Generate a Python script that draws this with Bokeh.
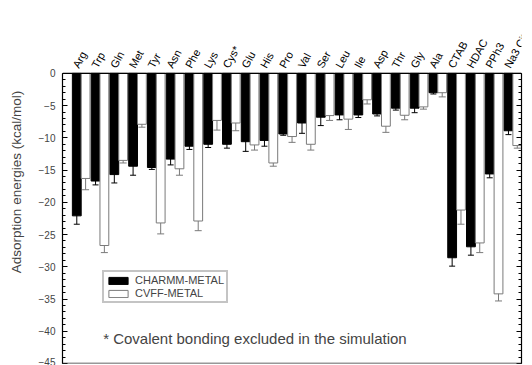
from bokeh.plotting import figure
from bokeh.models import (ColumnDataSource, LinearAxis, Range1d, Whisker, LabelSet, Span,
                          Legend, LegendItem, Label, TeeHead, SingleIntervalTicker,
                          CustomJSTickFormatter)
from bokeh.core.properties import value
from bokeh.embed import file_html
from bokeh.resources import INLINE

categories = ["Arg", "Trp", "Gln", "Met", "Tyr", "Asn", "Phe", "Lys", "Cys*", "Glu", "His", "Pro",
              "Val", "Ser", "Leu", "Ile", "Asp", "Thr", "Gly", "Ala", "CTAB", "HDAC", "PPh3", "Na3 Citrate"]
charmm = [-22.1, -16.7, -15.7, -14.4, -14.6, -13.3, -11.3, -11.0, -11.0, -10.6, -10.4, -9.4,
          -7.7, -6.8, -6.45, -6.45, -6.3, -5.4, -5.4, -3.0, -28.6, -26.9, -15.6, -8.9]
charmm_err = [1.3, 0.6, 1.3, 1.4, 0.3, 0.9, 0.5, 0.5, 0.6, 1.5, 0.9, 0.2,
              1.6, 1.3, 0.75, 0.4, 0.3, 0.3, 0.7, 0.2, 1.3, 1.3, 0.6, 0.6]
cvff = [-16.3, -26.7, -13.5, -7.9, -23.2, -14.8, -22.9, -7.3, -7.7, -11.1, -13.9, -9.8,
        -11.0, -6.55, -7.1, -4.1, -8.2, -6.5, -5.2, -3.0, -21.2, -26.3, -34.2, -11.2]
cvff_err = [1.75, 1.1, 0.4, 0.45, 1.7, 1.0, 1.5, 1.5, 1.2, 0.8, 0.5, 0.9,
            0.9, 0.75, 1.6, 0.65, 0.95, 0.7, 0.35, 0.65, 2.2, 1.5, 1.1, 0.4]
y_min, y_max = -45, 0

OFF = 0.235
W = 0.47
idx = list(range(len(categories)))
src = ColumnDataSource(dict(
    xb=[i - OFF for i in idx], xw=[i + OFF for i in idx],
    cb=charmm, cw=cvff,
    cb_lo=[v - e for v, e in zip(charmm, charmm_err)], cb_hi=[v + e for v, e in zip(charmm, charmm_err)],
    cw_lo=[v - e for v, e in zip(cvff, cvff_err)], cw_hi=[v + e for v, e in zip(cvff, cvff_err)],
))
lab_src = ColumnDataSource(dict(x=[i - 0.12 for i in idx], y=[0.66] * len(idx), text=categories))

FONT = "Liberation Sans"
p = figure(width=532, height=365, x_range=Range1d(-0.996, 23.46), y_range=Range1d(y_min, 11.3),
           x_axis_location=None, output_backend="svg", toolbar_location=None,
           min_border_left=62, min_border_right=11, min_border_top=0, min_border_bottom=2)
p.grid.visible = False
p.outline_line_color = None

rb = p.vbar(x="xb", top=0, bottom="cb", width=W, source=src, fill_color="black", line_color="black")
rw = p.vbar(x="xw", top=0, bottom="cw", width=W, source=src, fill_color="white", line_color="#7a7a7a",
            line_width=1)

p.add_layout(Whisker(base="xb", upper="cb_hi", lower="cb_lo", source=src, line_color="black", line_width=1,
                     upper_head=TeeHead(size=6, line_color="black"), lower_head=TeeHead(size=6, line_color="black")))
p.add_layout(Whisker(base="xw", upper="cw_hi", lower="cw_lo", source=src, line_color="#7a7a7a", line_width=1,
                     upper_head=TeeHead(size=7, line_color="#7a7a7a"), lower_head=TeeHead(size=7, line_color="#7a7a7a")))

# frame top / bottom borders
p.add_layout(Span(location=y_max, dimension="width", line_color="black", line_width=1.3))
p.add_layout(Span(location=y_min, dimension="width", line_color="#333333", line_width=1.3))

# rotated category labels above the frame
p.add_layout(LabelSet(x="x", y="y", text="text", source=lab_src, angle=1.07,
                      text_align="left", text_baseline="alphabetic",
                      text_font=value(FONT), text_font_size=value("11px"), text_color="black"))

ya = p.yaxis[0]
ya.bounds = (y_min, y_max)
ya.ticker = SingleIntervalTicker(interval=5, num_minor_ticks=5)
ya.axis_label = "Adsorption energies (kcal/mol)"
ya.axis_label_text_font = FONT
ya.axis_label_text_font_size = "13.5px"
ya.axis_label_text_font_style = "normal"
ya.axis_label_standoff = 12
ya.major_label_text_font = FONT
ya.major_label_text_font_size = "10px"
ya.major_label_standoff = 7
ya.major_tick_in = 5
ya.major_tick_out = 0
ya.minor_tick_in = 3
ya.minor_tick_out = 0
ya.axis_line_color = "black"
ya.axis_line_width = 1.2

ra = LinearAxis(ticker=SingleIntervalTicker(interval=5, num_minor_ticks=5),
                formatter=CustomJSTickFormatter(code="return ''"))
ra.bounds = (y_min, y_max)
ra.major_label_standoff = 0
ra.major_tick_in = 5
ra.major_tick_out = 0
ra.minor_tick_in = 3
ra.minor_tick_out = 0
ra.axis_line_width = 1.2
p.add_layout(ra, "right")

legend = Legend(items=[LegendItem(label="CHARMM-METAL", renderers=[rb]),
                       LegendItem(label="CVFF-METAL", renderers=[rw])],
                location=(40, 60), orientation="vertical")
legend.label_text_font = FONT
legend.label_text_font_size = "11px"
legend.glyph_width = 24
legend.glyph_height = 9
legend.label_height = 9
legend.spacing = 1
legend.padding = 2
legend.margin = 0
legend.label_standoff = 5
legend.border_line_color = "#8a8a8a"
legend.border_line_width = 2
legend.background_fill_alpha = 1
p.add_layout(legend, "center")

p.add_layout(Label(x=1.17, y=-41.17, text="* Covalent bonding excluded in the simulation",
                   text_font=FONT, text_font_size="15px", text_baseline="middle", text_align="left"))

open("out.html", "w").write(file_html(p, INLINE))
